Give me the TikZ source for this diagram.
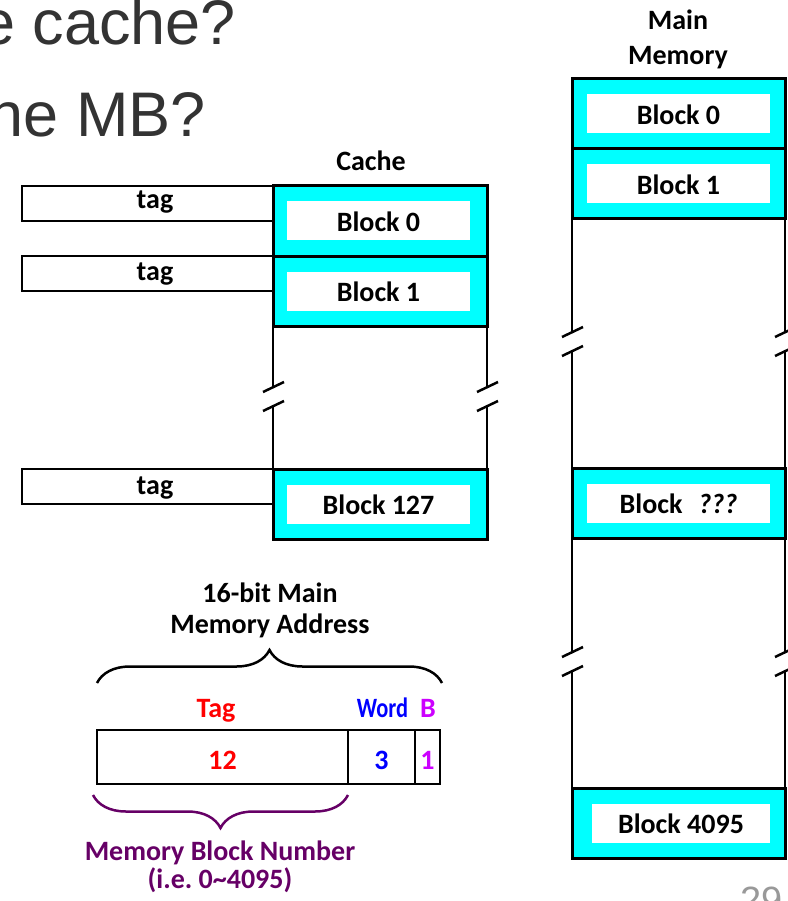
\documentclass[tikz,border=0pt]{standalone}
\usepackage{fontspec}
\setmainfont{Carlito}
\newfontfamily\slidefont{Liberation Sans}
\usepackage{tikz}
\usetikzlibrary{positioning, decorations.pathreplacing}

\definecolor{blkcyan}{HTML}{00FFFF}
\definecolor{tagred}{HTML}{FF0000}
\definecolor{wordblue}{HTML}{0000FF}
\definecolor{bmag}{HTML}{CC00FF}
\definecolor{mbpurple}{HTML}{660066}
\definecolor{titlegray}{HTML}{333333}
\definecolor{pggray}{HTML}{999999}

\begin{document}
\begin{tikzpicture}[x=1pt, y=-1pt,
    lbl/.style={font=\bfseries\fontsize{28}{30}\selectfont, inner sep=0pt},
    outerblk/.style={draw, line width=3pt, fill=blkcyan, minimum width=214pt,
        minimum height=70pt, inner sep=0pt, outer sep=0pt},
    innerblk/.style={lbl, fill=white, minimum width=183pt, minimum height=39pt,
        text height=21pt, text depth=0pt},
    tagbox/.style={draw, line width=2.5pt, minimum width=251pt, minimum height=35pt,
        inner sep=0pt, outer sep=0pt},
    field/.style={draw, line width=2.5pt, minimum height=54pt, inner sep=0pt, outer sep=0pt,
        font=\bfseries\fontsize{28}{30}\selectfont, text height=25pt, text depth=0pt},
    wall/.style={line width=2.5pt},
    brc/.style={line width=2.5pt, decorate, decoration={brace, amplitude=33pt}},
    slide/.style={font=\slidefont\fontsize{63}{70}\selectfont, text=titlegray,
        anchor=base east, inner sep=0pt},
]
\useasboundingbox (0,0) rectangle (787,901);

% title lines of the slide (cut off)
\node[slide] (ttl1) at (236,45) {e cache?};
\node[slide] (ttl2) at (206,137) {he MB?};

% cache
\node[lbl, anchor=base] (cachettl) at (371,171) {Cache};
\node[outerblk] (cb0) at (380,221) {};
\node[innerblk] (cb0t) at (378.5,220.5) {Block 0};
\node[outerblk, below=0pt of cb0] (cb1) {};
\node[innerblk] (cb1t) at ([xshift=-1.5pt]cb1.center) {Block 1};
\node[outerblk] (cb127) at (380,504) {};
\node[innerblk] (cb127t) at ([xshift=-1.5pt]cb127.center) {Block 127};

% tag fields
\foreach \n/\y in {0/209,1/280,127/494} {
    \node[tagbox, anchor=north east] (tg\n) at (cb\n.north west) {};
    \node[lbl, anchor=base] (tg\n t) at (155,\y) {tag};
}

% cache walls with breaks
\coordinate (cbrkl) at (273,397);
\coordinate (cbrkr) at (487,397);
\draw[wall] (cb1.south west) -- ([shift={(0,-10)}]cbrkl);
\draw[wall] ([shift={(0,9)}]cbrkl) -- (cb127.north west);
\draw[wall] (cb1.south east) -- ([shift={(0,-10)}]cbrkr);
\draw[wall] ([shift={(0,9)}]cbrkr) -- (cb127.north east);

% main memory
\node[lbl, anchor=base] (mmttl1) at (678,30) {Main};
\node[lbl, anchor=base] (mmttl2) at (678,65) {Memory};
\node[outerblk, minimum width=213pt] (mb0) at (678.5,114) {};
\node[innerblk] (mb0t) at (mb0) {Block 0};
\node[outerblk, minimum width=213pt, below=0pt of mb0] (mb1) {};
\node[innerblk] (mb1t) at (mb1) {Block 1};
\node[outerblk, minimum width=213pt] (mbq) at (678.5,503) {};
\node[innerblk] (mbqt) at (mbq) {Block\hspace{16pt}\textit{???}};
\node[outerblk, minimum width=213pt] (mb4095) at (678.5,823) {};
\node[innerblk, minimum width=178pt] (mb4095t) at ([xshift=2.5pt]mb4095.center) {Block 4095};

\coordinate (mbrkl1) at (572,342);
\coordinate (mbrkr1) at (785,342);
\coordinate (mbrkl2) at (572,662);
\coordinate (mbrkr2) at (785,662);
\draw[wall] (mb1.south west) -- ([shift={(0,-10)}]mbrkl1);
\draw[wall] ([shift={(0,9)}]mbrkl1) -- (mbq.north west);
\draw[wall] (mbq.south west) -- ([shift={(0,-10)}]mbrkl2);
\draw[wall] ([shift={(0,9)}]mbrkl2) -- (mb4095.north west);
\draw[wall] (mb1.south east) -- ([shift={(0,-10)}]mbrkr1);
\draw[wall] ([shift={(0,9)}]mbrkr1) -- (mbq.north east);
\draw[wall] (mbq.south east) -- ([shift={(0,-10)}]mbrkr2);
\draw[wall] ([shift={(0,9)}]mbrkr2) -- (mb4095.north east);

% break marks
\foreach \b in {cbrkl,cbrkr,mbrkl1,mbrkr1,mbrkl2,mbrkr2} {
    \draw[wall] ([shift={(-10,-5)}]\b) -- ([shift={(11,-15)}]\b);
    \draw[wall] ([shift={(-10,14)}]\b) -- ([shift={(11,4)}]\b);
}

% address format
\node[lbl, anchor=base] (addr1) at (270,602) {16-bit Main};
\node[lbl, anchor=base] (addr2) at (270,633) {Memory Address};
\node[field, minimum width=251pt, text=tagred] (ftag) at (222.5,757) {12};
\node[field, minimum width=67pt, text=wordblue, right=0pt of ftag] (fword) {3};
\node[field, minimum width=25pt, text=bmag, right=0pt of fword] (fb) {1};
\node[lbl, anchor=base, text=tagred] (ltag) at (216,717) {Tag};
\node[lbl, anchor=base, text=wordblue] (lword) at (382.5,717) {\scalebox{0.8}[1]{Word}};
\node[lbl, anchor=base, text=bmag] (lb) at (428,717) {B};
\draw[brc] ([shift={(0,-47)}]ftag.north west) -- ([shift={(2,-47)}]fb.north east);
\draw[brc, mbpurple] ([shift={(0,11)}]ftag.south east) -- ([shift={(-4,11)}]ftag.south west);
\node[lbl, anchor=base, text=mbpurple] (mbn1) at (220,860) {Memory Block Number};
\node[lbl, anchor=base, text=mbpurple] (mbn2) at (220,888) {(i.e.\ 0\textasciitilde 4095)};

% page number (cut off)
\node[font=\slidefont\fontsize{38}{40}\selectfont, text=pggray, anchor=base east,
    inner sep=0pt] (pgno) at (783,913) {29};
\end{tikzpicture}
\end{document}
